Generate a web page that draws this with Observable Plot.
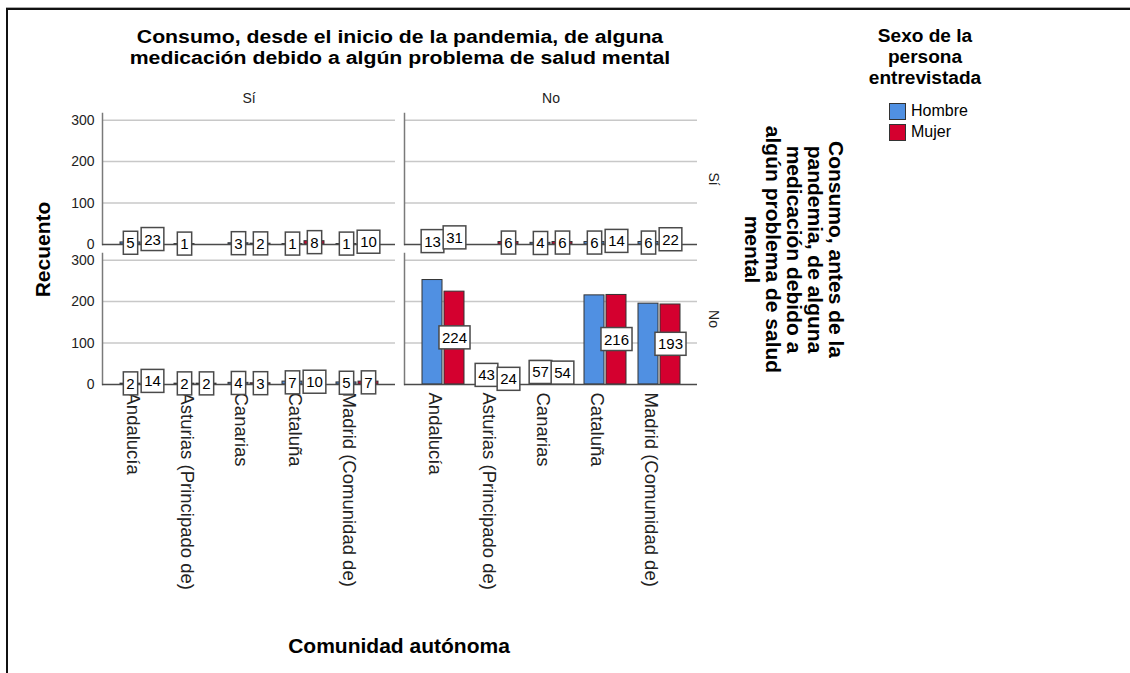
<!DOCTYPE html>
<html>
<head>
<meta charset="utf-8">
<script src="https://cdn.jsdelivr.net/npm/d3@7"></script>
<script src="https://cdn.jsdelivr.net/npm/@observablehq/plot@0.6"></script>
<style>
  body { margin: 0; background: #fff; }
  #wrap { position: relative; width: 1130px; height: 673px; overflow: hidden;
          font-family: "Liberation Sans", Arial, sans-serif; color: #000; }
  #wrap svg { position: absolute; left: 0; top: 0; }
  .ov { position: absolute; text-align: center; white-space: nowrap; }
  .bold { font-weight: bold; font-size: 21px; line-height: 21px; }
  .sw { position: absolute; width: 15px; height: 15px; border: 1px solid #333; }
  .lg { position: absolute; font-size: 16px; line-height: 18px; }
</style>
</head>
<body>
<div id="wrap"></div>
<script>
// ---- data ----
const comunidades = ["Andalucía", "Asturias (Principado de)", "Canarias", "Cataluña", "Madrid (Comunidad de)"];
const sexos = ["Hombre", "Mujer"];
const sexoColors = ["#5090e2", "#d4002f"];
const desdeCats = ["Sí", "No"];   // columns: consumo desde el inicio de la pandemia
const antesCats = ["Sí", "No"];   // rows: consumo antes de la pandemia
const yTicks = [0, 100, 200, 300];

// desde Sí / antes Sí
const siSiHombre = [5, 1, 3, 1, 1];
const siSiMujer  = [23, null, 2, 8, 10];
// desde No / antes Sí
const noSiHombre = [13, null, 4, 6, 6];
const noSiMujer  = [31, 6, 6, 14, 22];
// desde Sí / antes No
const siNoHombre = [2, 2, 4, 7, 5];
const siNoMujer  = [14, 2, 3, 10, 7];
// desde No / antes No
const noNoHombre = [252, 43, 57, 215, 195];
const noNoMujer  = [224, 24, 54, 216, 193];

// labels not displayed in the reference (desde, antes, sexo, comunidad)
const hiddenLabels = [
  ["No", "No", "Hombre", "Andalucía"],
  ["No", "No", "Hombre", "Cataluña"],
  ["No", "No", "Hombre", "Madrid (Comunidad de)"]
];

const series = [
  {desde: "Sí", antes: "Sí", sexo: "Hombre", values: siSiHombre},
  {desde: "Sí", antes: "Sí", sexo: "Mujer",  values: siSiMujer},
  {desde: "No", antes: "Sí", sexo: "Hombre", values: noSiHombre},
  {desde: "No", antes: "Sí", sexo: "Mujer",  values: noSiMujer},
  {desde: "Sí", antes: "No", sexo: "Hombre", values: siNoHombre},
  {desde: "Sí", antes: "No", sexo: "Mujer",  values: siNoMujer},
  {desde: "No", antes: "No", sexo: "Hombre", values: noNoHombre},
  {desde: "No", antes: "No", sexo: "Mujer",  values: noNoMujer}
];

const data = series.flatMap(s => s.values.map((v, i) => ({
  desde: s.desde, antes: s.antes, sexo: s.sexo, comunidad: comunidades[i], value: v
}))).filter(d => d.value != null);

const isHidden = d => hiddenLabels.some(h => h[0] === d.desde && h[1] === d.antes && h[2] === d.sexo && h[3] === d.comunidad);
const hombre = data.filter(d => d.sexo === "Hombre");
const mujer = data.filter(d => d.sexo === "Mujer");
const labH = hombre.filter(d => !isHidden(d));
const labM = mujer.filter(d => !isHidden(d));

const common = {fx: "desde", fy: "antes", x: "comunidad", y: "value"};

const plot = Plot.plot({
  width: 1130,
  height: 673,
  marginLeft: 101,
  marginRight: 433,
  marginTop: 113,
  marginBottom: 288,
  style: {fontFamily: "'Liberation Sans', Arial, sans-serif", background: "transparent", color: "#222"},
  fx: {domain: desdeCats, paddingInner: 0.03, paddingOuter: 0},
  fy: {domain: antesCats, paddingInner: 0.064, paddingOuter: 0},
  x: {domain: comunidades, paddingInner: 0.23, paddingOuter: 0.30},
  y: {domain: [0, 316]},
  color: {domain: sexos, range: sexoColors},
  marks: [
    Plot.gridY({ticks: [100, 200, 300], stroke: "#c8c8c8", strokeWidth: 1.5, strokeOpacity: 1}),
    Plot.frame({anchor: "left", stroke: "#7a7a7a", strokeWidth: 1.5}),
    Plot.axisY({ticks: yTicks, tickSize: 0, tickPadding: 8, fontSize: 14, label: null, fill: "#222"}),
    Plot.axisX({tickRotate: 90, tickSize: 0, tickPadding: 8, fontSize: 18.5, label: null, fill: "#222",
                textAnchor: "start", lineAnchor: "middle", dx: -9}),
    Plot.axisFx({anchor: "top", tickSize: 0, tickPadding: 11, fontSize: 14, label: null, fill: "#222"}),
    Plot.axisFy({anchor: "right", tickSize: 0, tickPadding: 16, tickRotate: 90, fontSize: 14, label: null,
                 fill: "#222", textAnchor: "middle", lineAnchor: "middle"}),
    Plot.barY(hombre, {...common, fill: "sexo", stroke: "#333", strokeWidth: 1, insetRight: 22}),
    Plot.barY(mujer, {...common, fill: "sexo", stroke: "#333", strokeWidth: 1, insetLeft: 22}),
    Plot.ruleY([0], {stroke: "#4a4a4a", strokeWidth: 1.5}),
    Plot.text(labH, {fx: "desde", fy: "antes", x: "comunidad", y: d => d.value / 2, text: d => String(d.value),
                     dx: -11, fontSize: 15, fill: "#000", ariaDescription: "vlabel"}),
    Plot.text(labM, {fx: "desde", fy: "antes", x: "comunidad", y: d => d.value / 2, text: d => String(d.value),
                     dx: 11, fontSize: 15, fill: "#000", ariaDescription: "vlabel"})
  ]
});

const wrap = document.getElementById("wrap");
wrap.appendChild(plot);

// boxes behind value labels
d3.select(plot).selectAll('g[aria-description="vlabel"] text').each(function() {
  const b = this.getBBox();
  const r = document.createElementNS("http://www.w3.org/2000/svg", "rect");
  r.setAttribute("x", b.x - 3);
  r.setAttribute("y", b.y - 3);
  r.setAttribute("width", b.width + 6);
  r.setAttribute("height", b.height + 6);
  r.setAttribute("fill", "#fff");
  r.setAttribute("stroke", "#4a4a4a");
  r.setAttribute("stroke-width", 1.5);
  const t = this.getAttribute("transform");
  if (t) r.setAttribute("transform", t);
  this.parentNode.insertBefore(r, this);
});

// overlay texts
function addDiv(html, cls, style) {
  const d = document.createElement("div");
  d.className = "ov " + cls;
  d.innerHTML = html;
  Object.assign(d.style, style);
  wrap.appendChild(d);
  return d;
}
// frame lines
addDiv("", "", {left: "6px", top: "7px", width: "1124px", height: "1px", background: "#aaa"});
addDiv("", "", {left: "6px", top: "8px", width: "1124px", height: "2px", background: "#111"});
addDiv("", "", {left: "6px", top: "8px", width: "2px", height: "665px", background: "#111"});

addDiv("Consumo, desde el inicio de la pandemia, de alguna<br>medicación debido a algún problema de salud mental",
       "bold", {left: "100px", width: "600px", top: "27px", fontSize: "18px", transform: "scaleX(1.18)"});
addDiv("Sexo de la<br>persona<br>entrevistada", "bold",
       {left: "825px", width: "200px", top: "26px", fontSize: "18px", transform: "scaleX(1.06)"});
addDiv("Recuento", "bold", {left: "-58px", width: "200px", top: "239px", transform: "rotate(-90deg)"});
addDiv("Comunidad autónoma", "bold", {left: "249px", width: "300px", top: "635px"});
addDiv("Consumo, antes de la<br>pandemia, de alguna<br>medicación debido a<br>algún problema de salud<br>mental",
       "bold", {left: "664px", width: "260px", top: "196.5px", transform: "rotate(90deg)"});

// legend
const colorScale = plot.scale("color");
sexos.forEach((s, i) => {
  const sw = document.createElement("div");
  sw.className = "sw";
  Object.assign(sw.style, {left: "889px", top: (103 + i * 21) + "px", background: colorScale.range[i]});
  wrap.appendChild(sw);
  const lg = document.createElement("div");
  lg.className = "lg";
  lg.textContent = s;
  Object.assign(lg.style, {left: "911px", top: (102 + i * 21) + "px"});
  wrap.appendChild(lg);
});
</script>
</body>
</html>
